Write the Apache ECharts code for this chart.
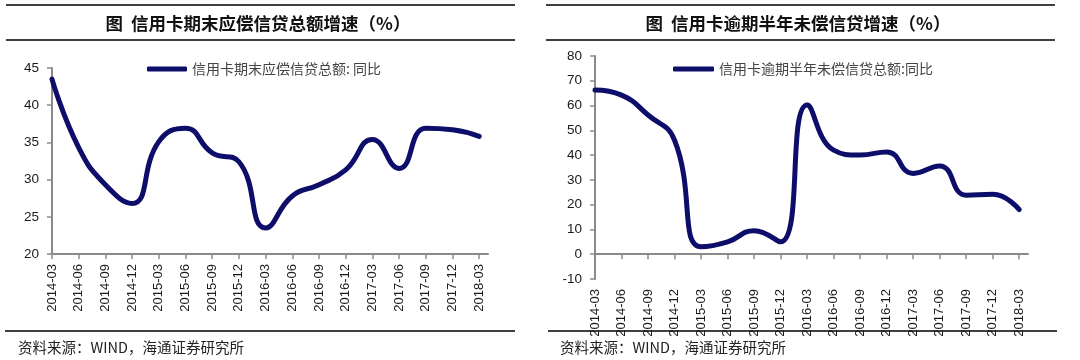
<!DOCTYPE html>
<html>
<head>
<meta charset="utf-8">
<script src="https://cdn.jsdelivr.net/npm/echarts@6/dist/echarts.min.js"></script>
<style>
html,body{margin:0;padding:0;background:#fff;}
#chart{width:1080px;height:360px;}
</style>
</head>
<body>
<div id="chart"></div>
<script>
// ---- data ----
const categories = ['2014-03','2014-06','2014-09','2014-12','2015-03','2015-06','2015-09','2015-12','2016-03','2016-06','2016-09','2016-12','2017-03','2017-06','2017-09','2017-12','2018-03'];
const totalCreditGrowth = [43.5, 34.3, 29.3, 26.8, 35.1, 36.9, 33.6, 32.4, 23.5, 27.8, 29.3, 31.3, 35.4, 31.5, 36.9, 36.7, 35.8];
const overdueCreditGrowth = [66.3, 64.2, 56.2, 46.0, 3.0, 5.0, 9.5, 5.0, 60.2, 42.0, 40.0, 41.3, 32.6, 35.6, 23.8, 24.2, 18.0];
const leftTitle = '图  信用卡期末应偿信贷总额增速（%）';
const rightTitle = '图  信用卡逾期半年未偿信贷增速（%）';
const leftSeriesName = '信用卡期末应偿信贷总额: 同比';
const rightSeriesName = '信用卡逾期半年未偿信贷总额:同比';
const sourceText = '资料来源：WIND，海通证券研究所';

const chart = echarts.init(document.getElementById('chart'), null, {renderer: 'canvas'});
const idx = categories.map((c, i) => i);
const navy = '#0d0d6a';
const axisGray = '#8a8a8a';
const numFont = '"Liberation Sans", Arial, sans-serif';
const cjkFont = '"Noto Sans CJK SC", sans-serif';

function xAxisCfg(gridIndex) {
  return {
    type: 'value', gridIndex, min: 0, max: 16.33,
    axisLine: {show: true, onZero: true, lineStyle: {color: axisGray, width: 2}},
    axisTick: {show: true, length: 5, customValues: idx, lineStyle: {color: axisGray, width: 1.5}},
    axisLabel: {
      customValues: idx, rotate: 90, margin: 10, fontSize: 13, color: '#1a1a1a', fontFamily: numFont,
      formatter: v => categories[Math.round(v)] || ''
    },
    splitLine: {show: false}
  };
}
function yAxisCfg(gridIndex, min, max, interval) {
  return {
    type: 'value', gridIndex, min, max, interval,
    axisLine: {show: true, lineStyle: {color: axisGray, width: 2}},
    axisTick: {show: true, length: 5, lineStyle: {color: axisGray, width: 1.5}},
    axisLabel: {margin: 13, fontSize: 13.5, color: '#1a1a1a', fontFamily: numFont},
    splitLine: {show: false}
  };
}

const option = {
  backgroundColor: '#ffffff',
  animation: false,
  grid: [
    {left: 52, top: 68, width: 436, height: 186},
    {left: 595, top: 56, width: 433, height: 223}
  ],
  xAxis: [xAxisCfg(0), xAxisCfg(1)],
  yAxis: [yAxisCfg(0, 20, 45, 5), yAxisCfg(1, -10, 80, 10)],
  legend: [
    {data: [leftSeriesName], left: 147, top: 62, padding: 0, icon: 'roundRect', itemWidth: 40, itemHeight: 5,
     textStyle: {fontSize: 14, color: '#444', fontFamily: cjkFont}},
    {data: [rightSeriesName], left: 673, top: 62, padding: 0, icon: 'roundRect', itemWidth: 41, itemHeight: 5,
     textStyle: {fontSize: 14, color: '#444', fontFamily: cjkFont}}
  ],
  series: [
    {name: leftSeriesName, type: 'line', xAxisIndex: 0, yAxisIndex: 0, smooth: 0.5, symbol: 'none',
     lineStyle: {color: navy, width: 5, cap: 'round', join: 'round'}, itemStyle: {color: navy},
     data: totalCreditGrowth.map((v, i) => [i, v])},
    {name: rightSeriesName, type: 'line', xAxisIndex: 1, yAxisIndex: 1, smooth: 0.5, symbol: 'none',
     lineStyle: {color: navy, width: 5, cap: 'round', join: 'round'}, itemStyle: {color: navy},
     data: overdueCreditGrowth.map((v, i) => [i, v])}
  ],
  graphic: [
    {type: 'line', shape: {x1: 6, y1: 5, x2: 515, y2: 5}, style: {stroke: '#000', lineWidth: 1.5}},
    {type: 'line', shape: {x1: 6, y1: 40, x2: 515, y2: 40}, style: {stroke: '#000', lineWidth: 1.5}},
    {type: 'text', x: 258, y: 23, style: {text: leftTitle, font: 'bold 17.5px "Noto Sans CJK SC", sans-serif', fill: '#111', align: 'center', verticalAlign: 'middle'}},
    {type: 'line', shape: {x1: 546, y1: 5, x2: 1055, y2: 5}, style: {stroke: '#000', lineWidth: 1.5}},
    {type: 'line', shape: {x1: 546, y1: 40, x2: 1055, y2: 40}, style: {stroke: '#000', lineWidth: 1.5}},
    {type: 'text', x: 798, y: 23, style: {text: rightTitle, font: 'bold 17.5px "Noto Sans CJK SC", sans-serif', fill: '#111', align: 'center', verticalAlign: 'middle'}},
    {type: 'line', shape: {x1: 5, y1: 331, x2: 515, y2: 331}, style: {stroke: '#000', lineWidth: 1.5}},
    {type: 'text', x: 18, y: 347, style: {text: sourceText, font: '14.5px "Noto Sans CJK SC", sans-serif', fill: '#222', align: 'left', verticalAlign: 'middle'}},
    {type: 'line', shape: {x1: 548, y1: 331, x2: 1057, y2: 331}, style: {stroke: '#000', lineWidth: 1.5}},
    {type: 'text', x: 560, y: 347, style: {text: sourceText, font: '14.5px "Noto Sans CJK SC", sans-serif', fill: '#222', align: 'left', verticalAlign: 'middle'}}
  ]
};
chart.setOption(option);
</script>
</body>
</html>
